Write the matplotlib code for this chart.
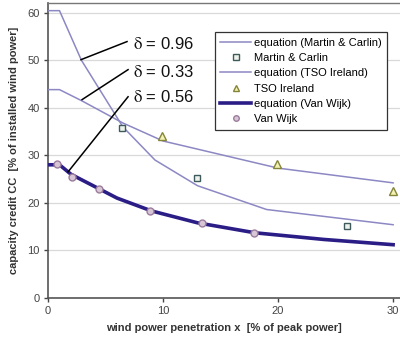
import matplotlib.pyplot as plt

# equation curves
mc_eq_x = [0, 1, 2.9, 6.5, 9.3, 13, 19, 30]
mc_eq_y = [60.4, 60.4, 50.0, 36.0, 29.0, 23.6, 18.6, 15.4]
tso_eq_x = [0, 1, 2.9, 6.5, 10, 20, 30]
tso_eq_y = [43.8, 43.8, 41.5, 36.8, 33.0, 27.3, 24.2]
vw_eq_x = [0, 1, 2, 4, 6, 9, 13, 18, 24, 30]
vw_eq_y = [28.0, 28.0, 26.0, 23.5, 21.0, 18.3, 15.8, 13.7, 12.3, 11.2]

# measured points
mc_x = [6.4, 12.95, 26]
mc_y = [35.8, 25.3, 15.2]
tso_x = [9.9, 19.9, 30]
tso_y = [34.1, 28.2, 22.5]
vw_x = [0.8, 2.1, 4.4, 8.9, 13.4, 17.9]
vw_y = [28.2, 25.5, 22.9, 18.3, 15.8, 13.7]

deltas = ["0.96", "0.33", "0.56"]

plt.rcParams['font.family'] = ['Liberation Sans', 'DejaVu Sans']
plt.rcParams['mathtext.fontset'] = 'stix'

fig = plt.figure(figsize=(4, 3.39), dpi=100, facecolor='w')
ax = fig.add_axes([0.12, 0.121, 0.88, 0.870])

thin = '#8c88c4'
thick = '#2b1d86'

ax.plot(mc_eq_x, mc_eq_y, color=thin, lw=1.1, label='equation (Martin & Carlin)', zorder=3)
ax.plot(mc_x, mc_y, ls='none', marker='s', ms=5, mfc='#eef2ec', mec='#3f5a5a', mew=1,
        label='Martin & Carlin', zorder=4)
ax.plot(tso_eq_x, tso_eq_y, color=thin, lw=1.1, label='equation (TSO Ireland)', zorder=3)
ax.plot(tso_x, tso_y, ls='none', marker='^', ms=6, mfc='#f2f2b4', mec='#85853a', mew=1,
        label='TSO Ireland', zorder=4)
ax.plot(vw_eq_x, vw_eq_y, color=thick, lw=2.6, label='equation (Van Wijk)', zorder=3)
ax.plot(vw_x, vw_y, ls='none', marker='o', ms=5, mfc='#d6c6d6', mec='#9c7c9c', mew=1,
        label='Van Wijk', zorder=4)

# delta annotations
text_pos = [(7.4, 53.3), (7.4, 47.6), (7.4, 42.3)]
line_from = [(2.87, 50.1), (2.96, 41.7), (1.74, 26.5)]
line_to = [(6.87, 53.9), (6.96, 48.0), (6.96, 42.3)]
for d, tp, lf, lt in zip(deltas, text_pos, line_from, line_to):
    ax.plot([lf[0], lt[0]], [lf[1], lt[1]], color='black', lw=1.1, zorder=5)
    ax.text(tp[0], tp[1], r'$\mathrm{\delta}$ = ' + d, fontsize=12, va='center', ha='left',
            color='#111111')

ax.set_xlim(0, 30.6)
ax.set_ylim(0, 62)
ax.set_xticks([0, 10, 20, 30])
ax.set_yticks([0, 10, 20, 30, 40, 50, 60])
ax.yaxis.grid(True, color='#d9d9d9', lw=0.9)
ax.set_axisbelow(True)

for s in ['left', 'bottom']:
    ax.spines[s].set_color('#555555')
    ax.spines[s].set_linewidth(1.2)
ax.spines['top'].set_color('#777777')
ax.spines['top'].set_linewidth(1.0)
ax.spines['right'].set_visible(False)
ax.tick_params(labelsize=8, colors='#444444', length=3, width=1, pad=3)

ax.set_xlabel('wind power penetration x  [% of peak power]', fontsize=8, fontweight='bold',
              color='#333333', labelpad=5)
ax.set_ylabel('capacity credit CC  [% of installed wind power]', fontsize=8, fontweight='bold',
              color='#333333', labelpad=6)

leg = ax.legend(loc='upper right', bbox_to_anchor=(0.963, 0.902), borderaxespad=0, fontsize=8,
                fancybox=False, framealpha=1, edgecolor='#333333', handlelength=2.8,
                handletextpad=0.2, labelspacing=0.48, borderpad=0.5, markerscale=0.8)
leg.get_frame().set_linewidth(0.9)

fig.savefig('out.png', dpi=100, facecolor='w')
